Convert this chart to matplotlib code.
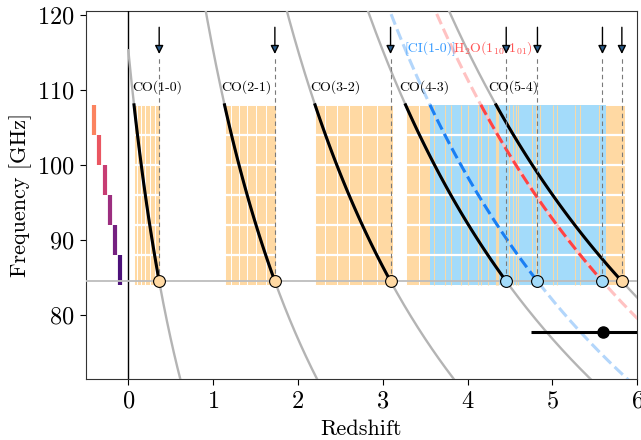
import matplotlib
matplotlib.use("Agg")
import matplotlib.pyplot as plt
import numpy as np

plt.rcParams.update({
    "font.family": "serif",
    "font.serif": ["cmr10"],
    "mathtext.fontset": "cm",
    "axes.formatter.use_mathtext": True,
    "axes.unicode_minus": False,
})

# Rest frequencies [GHz]
co_names = ["CO(1-0)", "CO(2-1)", "CO(3-2)", "CO(4-3)", "CO(5-4)"]
co_rest = [115.271, 230.538, 345.796, 461.041, 576.268]
ci_rest = 492.161
h2o_rest = 556.936

# Spectral tunings (edges in GHz) and the observed line frequency
tuning_edges = [84.0, 88.0, 92.0, 96.0, 100.0, 104.0, 108.0]
tuning_z = [-0.40, -0.34, -0.28, -0.22, -0.16, -0.10]
nu_obs = 84.5

# Photometric redshift estimate
zphot, zphot_err, zphot_y = 5.6, 0.85, 77.7

ORANGE = "#ffd9a3"
BLUE = "#a3dbfa"
CREAM = "#f7d9a8"
LIGHT_GREY = "#b4b4b4"


def nu_to_z(rest, nu):
    return rest / np.asarray(nu) - 1.0


fig = plt.figure(figsize=(6.41, 4.40), dpi=100)
ax = fig.add_axes([0.134, 0.139, 0.860, 0.836])

nu_lo, nu_hi = tuning_edges[0], tuning_edges[-1]

# Redshift coverage for the CO lines, one column per tuning
for rest in co_rest:
    zb = nu_to_z(rest, tuning_edges)
    for z_left, z_right in zip(zb[1:], zb[:-1]):
        ax.add_patch(plt.Rectangle((z_left, nu_lo), z_right - z_left, nu_hi - nu_lo,
                                   fc=ORANGE, ec="white", lw=0.7, zorder=1))

# [CI] and H2O coverage merged into one block
z_blue_lo = nu_to_z(ci_rest, nu_hi)
z_blue_hi = nu_to_z(h2o_rest, nu_lo)
ax.add_patch(plt.Rectangle((z_blue_lo, nu_lo), z_blue_hi - z_blue_lo, nu_hi - nu_lo,
                           fc=BLUE, ec="none", zorder=2))
for rest in co_rest + [ci_rest, h2o_rest]:
    zb = nu_to_z(rest, tuning_edges)
    zb = zb[(zb > z_blue_lo + 0.01) & (zb < z_blue_hi - 0.01)]
    ax.vlines(zb, nu_lo, nu_hi, colors=CREAM, lw=0.8, zorder=2.5)

# tuning boundaries across every shaded block
spans = [(nu_to_z(r, nu_hi), nu_to_z(r, nu_lo)) for r in co_rest]
for z_left, z_right in spans:
    ax.hlines(tuning_edges[1:-1], z_left, z_right, colors="white", lw=1.6, zorder=3)

# tuning markers on the left
colors = plt.cm.magma(np.linspace(0.74, 0.24, 6))
for z, top, bot, c in zip(tuning_z, tuning_edges[::-1][:-1], tuning_edges[::-1][1:], colors):
    ax.vlines(z, bot, top, colors=[c], lw=3, zorder=4)

ax.axvline(0, color="k", lw=1, zorder=4)
ax.axhline(nu_obs, color="#bdbdbd", lw=1.3, zorder=4)

z = np.linspace(0, 6.2, 600)
for name, rest in zip(co_names, co_rest):
    ax.plot(z, rest / (1 + z), color=LIGHT_GREY, lw=1.7, zorder=5)
    zs = np.linspace(nu_to_z(rest, nu_hi), nu_to_z(rest, nu_obs), 100)
    ax.plot(zs, rest / (1 + zs), color="k", lw=2.2, zorder=6)
    ax.text(nu_to_z(rest, 110), 110.3, name, fontsize=10, ha="left", va="center", zorder=7)

for rest, faint, strong in [(ci_rest, "#b3d6fb", "#1a7ff2"), (h2o_rest, "#ffc2c2", "#ff4343")]:
    ax.plot(z, rest / (1 + z), color=faint, lw=2.2, ls="--", zorder=5)
    zs = np.linspace(nu_to_z(rest, nu_hi), nu_to_z(rest, nu_obs), 100)
    ax.plot(zs, rest / (1 + zs), color=strong, lw=2.2, ls="--", zorder=6)

ax.text(nu_to_z(ci_rest, 115) - 0.02, 115.5, "[CI(1-0)]", color="#3399ff", fontsize=10,
        ha="left", va="center", zorder=7)
ax.text(nu_to_z(h2o_rest, 115) - 0.02, 115.5, r"H$_2$O(1$_{10}$-1$_{01}$)", color="#ff5555",
        fontsize=10, ha="left", va="center", zorder=7)

# candidate redshifts from the line at nu_obs
z_sol = [nu_to_z(r, nu_obs) for r in co_rest] + [nu_to_z(ci_rest, nu_obs), nu_to_z(h2o_rest, nu_obs)]
for zz in z_sol:
    in_blue = z_blue_lo <= zz <= z_blue_hi
    ax.plot([zz, zz], [nu_obs, 114.4], color="#7a7a7a", lw=0.8, ls=(0, (4, 3)), zorder=6)
    ax.annotate("", xy=(zz, 114.4), xytext=(zz, 118.7),
                arrowprops=dict(arrowstyle="-|>,head_length=0.5,head_width=0.25",
                                fc="#2b5d8c", ec="k", lw=1), zorder=8)
    ax.plot(zz, nu_obs, "o", ms=8.5, mfc=BLUE if in_blue else ORANGE, mec="k", mew=0.8, zorder=9)

ax.errorbar(zphot, zphot_y, xerr=zphot_err, fmt="o", color="k", ms=8, lw=2.2, capsize=0, zorder=9)

ax.set_xlim(-0.5, 6)
ax.set_ylim(71.5, 120.5)
ax.set_xticks(range(0, 7))
ax.set_yticks(range(80, 121, 10))
ax.tick_params(labelsize=17.5, length=4.5)
ax.tick_params(axis="x", pad=4)
ax.set_xlabel("Redshift", fontsize=16, labelpad=5)
ax.set_ylabel("Frequency [GHz]", fontsize=16, labelpad=4)
for sp in ax.spines.values():
    sp.set_color("#333333")

fig.savefig("out.png", dpi=100)
